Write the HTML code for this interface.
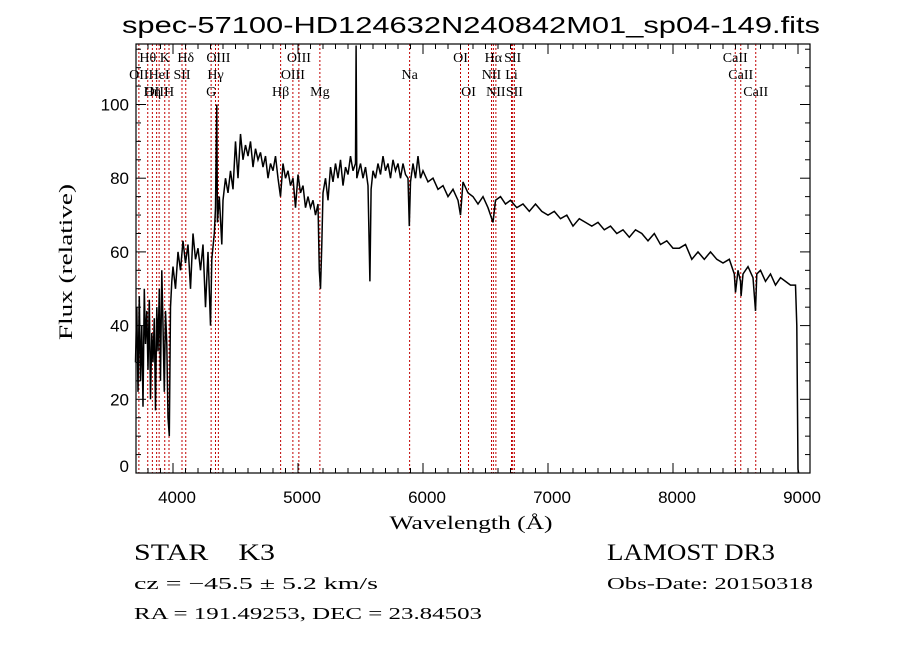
<!DOCTYPE html>
<html><head><meta charset="utf-8"><style>
html,body{margin:0;padding:0;background:#fff;}
svg{display:block;}
.ser{font-family:"Liberation Serif",serif;}
.san{font-family:"Liberation Sans",sans-serif;}
</style></head><body>
<svg id="chart" width="900" height="649" viewBox="0 0 900 649" xmlns="http://www.w3.org/2000/svg">
<rect width="900" height="649" fill="#fff"/>
<text class="san" x="471" y="33" font-size="23" text-anchor="middle" textLength="698" lengthAdjust="spacingAndGlyphs">spec-57100-HD124632N240842M01_sp04-149.fits</text>
<g id="lines"></g>
<g id="labels"></g>
<polyline id="spec" fill="none" stroke="#000" stroke-width="1.5"/>
<rect x="136" y="44" width="674" height="429" fill="none" stroke="#000" stroke-width="1.2"/>
<g id="ticks"></g>
<text class="ser" x="471" y="529" font-size="19" text-anchor="middle" textLength="163" lengthAdjust="spacingAndGlyphs">Wavelength (Å)</text>
<text class="ser" x="0" y="0" font-size="19" text-anchor="middle" textLength="156" lengthAdjust="spacingAndGlyphs" transform="translate(72,262) rotate(-90)">Flux (relative)</text>
<text class="ser" x="134" y="560" font-size="23" textLength="141" lengthAdjust="spacingAndGlyphs">STAR&#160;&#160;&#160;&#160;K3</text>
<text class="ser" x="134" y="589" font-size="17" textLength="244" lengthAdjust="spacingAndGlyphs">cz = −45.5 ± 5.2 km/s</text>
<text class="ser" x="134" y="619" font-size="17" textLength="348" lengthAdjust="spacingAndGlyphs">RA = 191.49253, DEC =  23.84503</text>
<text class="ser" x="607" y="560" font-size="23" textLength="168" lengthAdjust="spacingAndGlyphs">LAMOST DR3</text>
<text class="ser" x="607" y="589" font-size="17" textLength="206" lengthAdjust="spacingAndGlyphs">Obs-Date: 20150318</text>
</svg>
<script>
const wavelengths=[3700,3710,3720,3730,3740,3750,3760,3770,3780,3790,3800,3810,3820,3830,3840,3850,3860,3870,3880,3890,3900,3910,3920,3930,3940,3950,3960,3970,3980,3990,4000,4020,4040,4060,4080,4100,4120,4140,4160,4180,4200,4220,4240,4260,4280,4300,4310,4330,4340,4350,4355,4370,4390,4400,4420,4440,4460,4480,4500,4520,4540,4560,4580,4600,4620,4640,4660,4680,4700,4720,4740,4760,4780,4800,4820,4840,4860,4880,4900,4920,4940,4960,4980,5000,5020,5040,5060,5080,5100,5120,5140,5160,5170,5180,5190,5200,5220,5240,5260,5280,5300,5320,5340,5360,5380,5400,5420,5440,5460,5465,5470,5500,5520,5540,5560,5575,5585,5600,5620,5640,5660,5680,5700,5720,5740,5760,5780,5800,5820,5840,5860,5880,5890,5900,5920,5940,5960,5980,6000,6040,6080,6120,6160,6200,6240,6280,6300,6320,6360,6400,6440,6480,6520,6560,6580,6620,6660,6700,6750,6800,6850,6900,6950,7000,7050,7100,7150,7200,7250,7300,7350,7400,7450,7500,7550,7600,7650,7700,7750,7800,7850,7900,7950,8000,8050,8100,8150,8200,8250,8300,8350,8400,8450,8490,8500,8520,8540,8545,8560,8600,8640,8660,8670,8700,8740,8780,8820,8860,8900,8940,8980,8990,9000,9005];
const fluxValues=[30,45,22,48,25,40,18,50,35,44,28,47,20,38,30,42,17,45,33,50,25,55,40,22,44,35,15,10,45,52,56,50,60,55,63,57,62,50,65,58,61,55,62,45,60,40,58,65,72,100,68,75,62,74,80,76,82,77,90,80,92,85,89,86,90,83,88,85,87,83,86,80,84,82,86,80,75,84,80,82,78,80,72,81,76,78,72,75,72,74,70,73,55,50,62,76,80,74,83,79,84,80,85,78,83,81,86,82,84,116,80,84,80,83,78,52,77,82,80,84,81,86,82,84,80,85,82,84,80,84,81,80,67,79,84,80,86,80,82,79,80,77,78,75,77,74,70,79,76,75,73,75,72,68,74,75,73,74,72,73,71,73,71,70,71,69,70,67,69,68,67,68,66,67,65,66,64,66,65,63,65,62,63,61,61,62,58,60,58,60,58,57,58,54,49,55,52,48,54,56,53,44,54,55,52,54,51,53,52,51,51,40,1,0];
const lineWavelengths=[3727,3798,3835,3869,3889,3934,3968,4072,4102,4305,4340,4363,4861,4959,5007,5175,5893,6300,6364,6548,6563,6583,6708,6717,6731,8498,8542,8662];
const labelNames=["Hθ","K","Hδ","OIII","OIII","OI","Hα","SII","CaII","OII","HeI","SII","Hγ","OIII","Na","NII","Li","CaII","OIII","Hη","H","G","Hβ","Mg","OI","NII","SII","CaII"];
const labelWavelengths=[3798,3934,4102,4363,5007,6300,6563,6717,8498,3727,3889,4072,4340,4959,5893,6548,6708,8542,3869,3835,3968,4305,4861,5175,6364,6583,6731,8662];
const labelRows=[0,0,0,0,0,0,0,0,0,1,1,1,1,1,1,1,1,1,2,2,2,2,2,2,2,2,2,2];
const xTicks=[4000,5000,6000,7000,8000,9000];
const yTicks=[0,20,40,60,80,100];

const NS="http://www.w3.org/2000/svg";
const L=136,R=810,T=44,B=473;
function xs(w){return 173+(w-4000)*0.125;}
function ys(f){return 473-f*3.685;}
function mk(tag,attrs,parent){const e=document.createElementNS(NS,tag);for(const k in attrs)e.setAttribute(k,attrs[k]);parent.appendChild(e);return e;}

const lg=document.getElementById('lines');
lineWavelengths.forEach(w=>{
  const l=mk('line',{x1:xs(w),x2:xs(w),y1:T,y2:B,stroke:'#c00000','stroke-width':1,'stroke-dasharray':'2,2'},lg);
  
  
});
const lb=document.getElementById('labels');
labelNames.forEach((n,i)=>{
  const t=mk('text',{x:xs(labelWavelengths[i]),y:62+labelRows[i]*17,'font-size':14,'text-anchor':'middle','class':'ser'},lb);
  t.textContent=n;
  
  
});
const pts=wavelengths.map((w,i)=>{let y=ys(fluxValues[i]);y=Math.max(T,Math.min(B,y));return xs(w).toFixed(1)+','+y.toFixed(1);});
document.getElementById('spec').setAttribute('points',pts.join(' '));

const tg=document.getElementById('ticks');
for(let w=3800;w<=9100;w+=100){
  const x=xs(w);if(x<L||x>R)continue;
  const len=(w%1000===0)?10:5;
  mk('line',{x1:x,x2:x,y1:B,y2:B-len,stroke:'#000'},tg);
  mk('line',{x1:x,x2:x,y1:T,y2:T+len,stroke:'#000'},tg);
}
for(let f=0;f<=115;f+=5){
  const y=ys(f);if(y<T||y>B)continue;
  const len=(f%20===0)?10:5;
  mk('line',{x1:L,x2:L+len,y1:y,y2:y,stroke:'#000'},tg);
  mk('line',{x1:R,x2:R-len,y1:y,y2:y,stroke:'#000'},tg);
}
xTicks.forEach(w=>{
  const t=mk('text',{x:xs(w)+4,y:503,'font-size':17,'text-anchor':'middle','class':'san'},tg);
  t.textContent=String(w);
  
  
});
yTicks.forEach(f=>{
  const y=Math.min(ys(f)+6,472);
  const t=mk('text',{x:129,y:y,'font-size':17,'text-anchor':'end','class':'san'},tg);
  t.textContent=String(f);
  
  
});
</script>
</body></html>
